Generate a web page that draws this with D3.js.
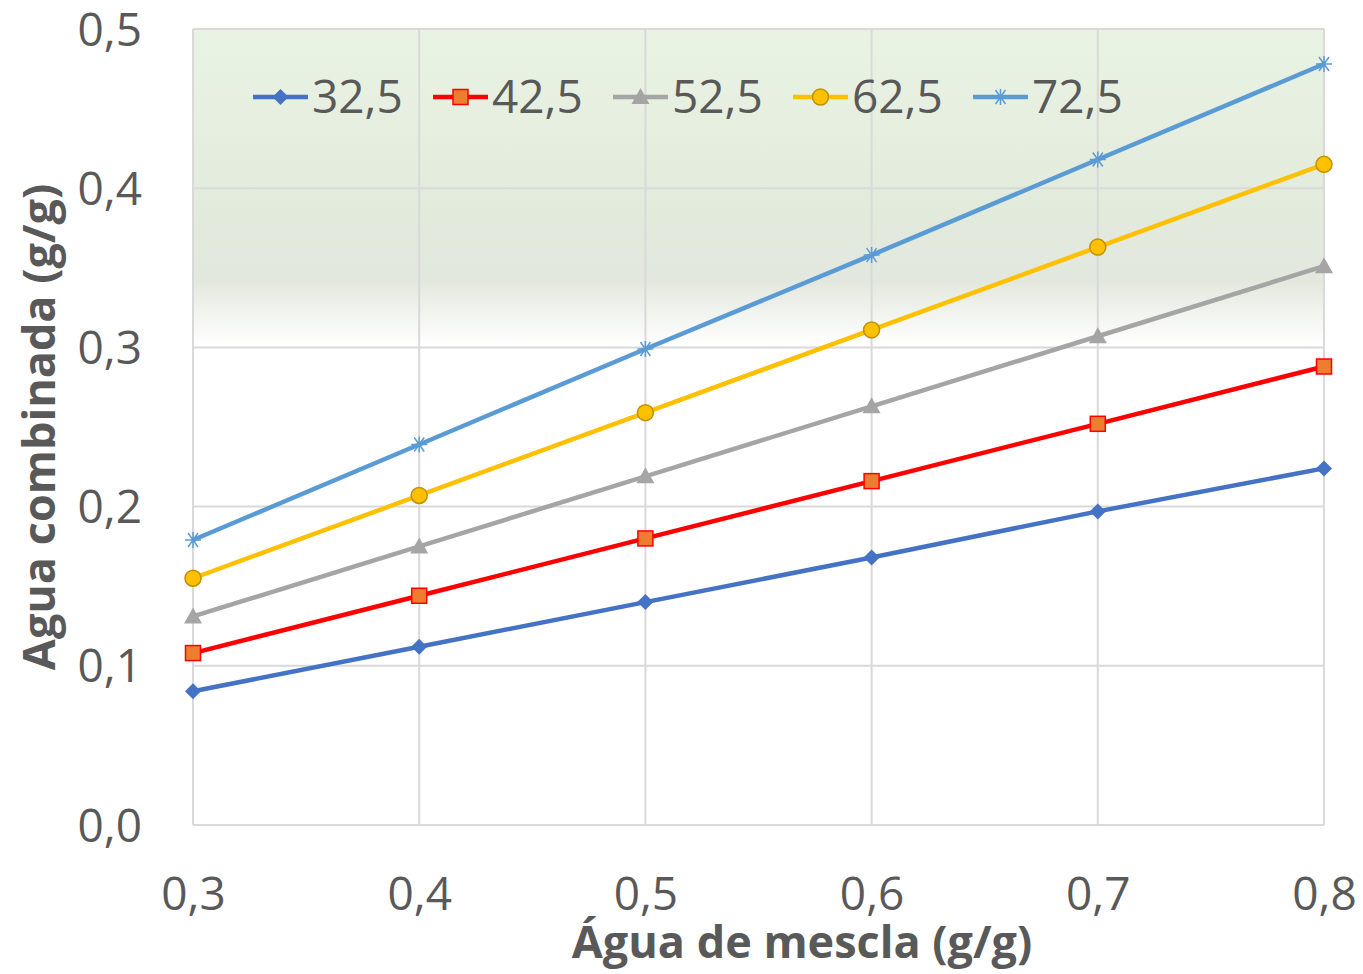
<!DOCTYPE html>
<html><head><meta charset="utf-8">
<script src="https://cdn.jsdelivr.net/npm/d3@7"></script>
<style>body{margin:0;background:#fff}svg{display:block}</style>
</head><body>
<script>
const xValues = [0.3, 0.4, 0.5, 0.6, 0.7, 0.8];
const seriesNames = ["32,5", "42,5", "52,5", "62,5", "72,5"];
const s325 = [0.084, 0.112, 0.140, 0.168, 0.197, 0.224];
const s425 = [0.108, 0.144, 0.180, 0.216, 0.252, 0.288];
const s525 = [0.131, 0.175, 0.219, 0.263, 0.307, 0.351];
const s625 = [0.155, 0.207, 0.259, 0.311, 0.363, 0.415];
const s725 = [0.179, 0.239, 0.299, 0.358, 0.418, 0.478];
const yTicks = [0, 0.1, 0.2, 0.3, 0.4, 0.5];
const xTitle = "Água de mescla (g/g)";
const yTitle = "Agua combinada (g/g)";

const seriesValues = [s325, s425, s525, s625, s725];
const lineColors = ["#4472C4", "#FF0000", "#A5A5A5", "#FFC000", "#5B9BD5"];
const markerTypes = ["diamond", "square", "triangle", "circle", "star"];

const W = 1363, H = 974;
const m = {left: 193, right: 1324, top: 29, bottom: 825};
const svg = d3.select("body").append("svg").attr("width", W).attr("height", H);
const x = d3.scaleLinear().domain([0.3, 0.8]).range([m.left, m.right]);
const y = d3.scaleLinear().domain([0, 0.5]).range([m.bottom, m.top]);
const fmt = v => d3.format(".1f")(v).replace(".", ",");

const defs = svg.append("defs");
const g = defs.append("linearGradient").attr("id", "bg").attr("x1", 0).attr("y1", 0).attr("x2", 0).attr("y2", 1);
g.append("stop").attr("offset", "0%").attr("stop-color", "#e9f3e3");
g.append("stop").attr("offset", "60%").attr("stop-color", "#e2eadc");
g.append("stop").attr("offset", "80%").attr("stop-color", "#e3e8de");
g.append("stop").attr("offset", "100%").attr("stop-color", "#ffffff");
svg.append("rect").attr("x", m.left).attr("y", m.top).attr("width", m.right - m.left)
  .attr("height", y(0.302) - m.top).attr("fill", "url(#bg)");

// grid
svg.append("g").selectAll("line").data(yTicks).join("line")
  .attr("x1", m.left).attr("x2", m.right).attr("y1", d => y(d)).attr("y2", d => y(d))
  .attr("stroke", "#d9d9d9").attr("stroke-width", 2);
svg.append("g").selectAll("line").data(xValues).join("line")
  .attr("y1", m.top).attr("y2", m.bottom).attr("x1", d => x(d)).attr("x2", d => x(d))
  .attr("stroke", "#d9d9d9").attr("stroke-width", 2);

const font = "'Open Sans', sans-serif";
// axes labels
const yAxis = d3.axisLeft(y).tickValues(yTicks).tickFormat(fmt).tickSize(0).tickPadding(51);
const ya = svg.append("g").attr("transform", `translate(${m.left},0)`).call(yAxis);
ya.select(".domain").remove();
ya.selectAll("text").attr("font-family", font).attr("font-size", 46).attr("fill", "#595959").attr("dy", "0.35em");
const xAxis = d3.axisBottom(x).tickValues(xValues).tickFormat(fmt).tickSize(0).tickPadding(52);
const xa = svg.append("g").attr("transform", `translate(0,${m.bottom})`).call(xAxis);
xa.select(".domain").remove();
xa.selectAll("text").attr("font-family", font).attr("font-size", 46).attr("fill", "#595959");

svg.append("text").attr("x", 802).attr("y", 958).attr("text-anchor", "middle")
  .attr("font-family", font).attr("font-weight", "bold").attr("font-size", 45).attr("fill", "#595959").text(xTitle);
svg.append("text").attr("transform", `translate(55,${(m.top + m.bottom) / 2}) rotate(-90)`).attr("text-anchor", "middle")
  .attr("font-family", font).attr("font-weight", "bold").attr("font-size", 45).attr("fill", "#595959").text(yTitle);

function drawMarker(sel, type, color) {
  if (type === "diamond") {
    sel.append("path").attr("d", "M0,-8L8,0L0,8L-8,0Z").attr("fill", color);
  } else if (type === "square") {
    sel.append("rect").attr("x", -7.5).attr("y", -7.5).attr("width", 15).attr("height", 15)
      .attr("fill", "#ED7D31").attr("stroke", "#FF0000").attr("stroke-width", 1.5);
  } else if (type === "triangle") {
    sel.append("path").attr("d", "M0,-9L9,7L-9,7Z").attr("fill", color);
  } else if (type === "circle") {
    sel.append("circle").attr("r", 8).attr("fill", "#FFC000").attr("stroke", "#BF9000").attr("stroke-width", 1.5);
  } else if (type === "star") {
    sel.append("path").attr("d", "M-8,0L8,0M-5,-7L5,7M-5,7L5,-7M0,-8L0,8").attr("stroke", color).attr("stroke-width", 1.5).attr("fill", "none");
  }
}

const line = d3.line().x((d, i) => x(xValues[i])).y(d => y(d));
seriesValues.forEach((vals, si) => {
  const gs = svg.append("g");
  gs.append("path").attr("d", line(vals)).attr("fill", "none").attr("stroke", lineColors[si]).attr("stroke-width", 4.5).attr("stroke-linejoin", "round");
  gs.selectAll("g.m").data(vals).join("g").attr("class", "m")
    .attr("transform", (d, i) => `translate(${x(xValues[i])},${y(d)})`)
    .each(function () { drawMarker(d3.select(this), markerTypes[si], lineColors[si]); });
});

// legend
const leg = svg.append("g");
seriesNames.forEach((name, i) => {
  const lx = 253 + i * 180, ly = 97;
  const lg = leg.append("g").attr("transform", `translate(${lx},${ly})`);
  lg.append("line").attr("x1", 0).attr("x2", 55).attr("y1", 0).attr("y2", 0).attr("stroke", lineColors[i]).attr("stroke-width", 4.5);
  const mk = lg.append("g").attr("transform", "translate(27.5,0)");
  drawMarker(mk, markerTypes[i], lineColors[i]);
  lg.append("text").attr("x", 59).attr("y", 0).attr("dy", "0.35em").attr("font-family", font).attr("font-size", 46).attr("fill", "#595959").text(name);
});
</script>
</body></html>
